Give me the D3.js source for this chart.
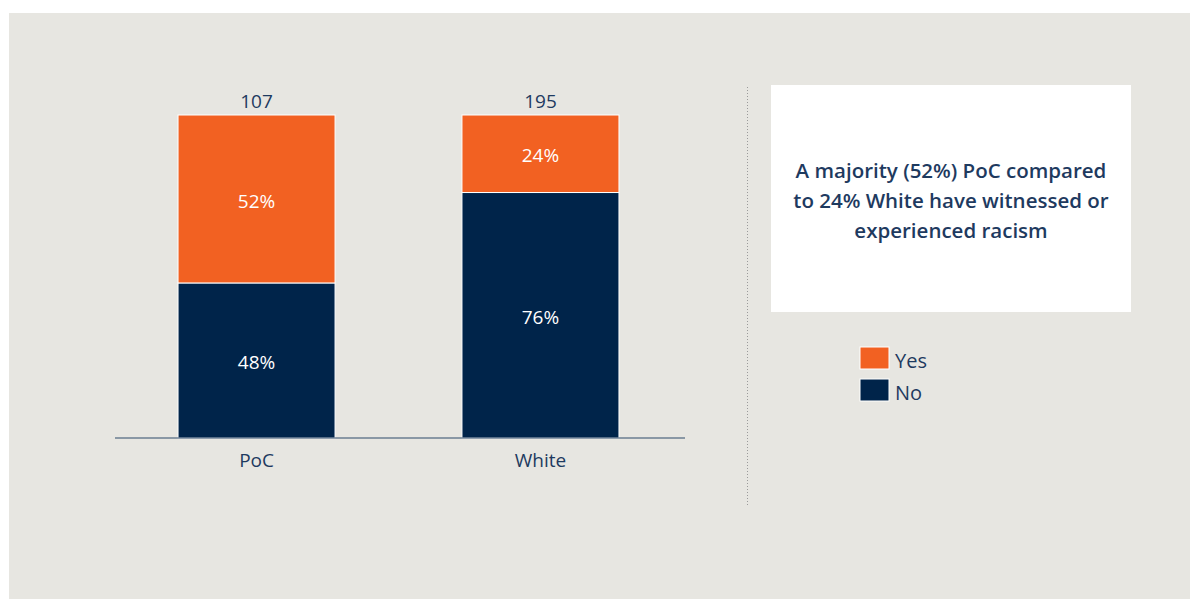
<!DOCTYPE html>
<html>
<head>
<meta charset="utf-8">
<script src="https://cdn.jsdelivr.net/npm/d3@7"></script>
<style>
  body { margin: 0; background: #fff; }
  svg { display: block; font-family: "Open Sans", "Noto Sans", sans-serif; }
</style>
</head>
<body>
<div id="chart"></div>
<script>
// chart data
let categories = ["PoC", "White"];
let totals = [107, 195];
let noValues = [48, 76];
let yesValues = [52, 24];
let seriesNames = ["Yes", "No"];
let noteLines = ["A majority (52%) PoC compared", "to 24% White have witnessed or", "experienced racism"];

let svgWidth = 1190;
let svgHeight = 599;

let orange = "#F26122";
let navy = "#00244A";
let textColor = "#1E3A5F";

let svg = d3.select("#chart")
  .append("svg")
  .attr("width", svgWidth)
  .attr("height", svgHeight);

// grey panel
svg.append("rect")
  .attr("x", 9)
  .attr("y", 13)
  .attr("width", svgWidth - 9)
  .attr("height", svgHeight - 13)
  .attr("fill", "#E7E6E1");

// scales
let xScale = d3.scaleBand()
  .domain(categories)
  .range([115, 682])
  .paddingInner(0.447)
  .paddingOuter(0.222);

let yScale = d3.scaleLinear()
  .domain([0, 100])
  .range([438, 115]);

let rows = categories.map((c, i) => ({
  cat: c, total: totals[i], no: noValues[i], yes: yesValues[i]
}));

// stacked bars: No at bottom, Yes on top
let barGroup = svg.append("g");

barGroup.selectAll("rect.no")
  .data(rows)
  .enter()
  .append("rect")
  .attr("class", "no")
  .attr("x", d => xScale(d.cat))
  .attr("y", d => yScale(d.no))
  .attr("width", xScale.bandwidth())
  .attr("height", d => yScale(0) - yScale(d.no))
  .attr("fill", navy)
  .attr("stroke", "#fff")
  .attr("stroke-width", 1);

barGroup.selectAll("rect.yes")
  .data(rows)
  .enter()
  .append("rect")
  .attr("class", "yes")
  .attr("x", d => xScale(d.cat))
  .attr("y", d => yScale(d.no + d.yes))
  .attr("width", xScale.bandwidth())
  .attr("height", d => yScale(d.no) - yScale(d.no + d.yes))
  .attr("fill", orange)
  .attr("stroke", "#fff")
  .attr("stroke-width", 1);

// x axis line + labels
let xAxis = d3.axisBottom(xScale).tickSize(0).tickPadding(16);
let axisG = svg.append("g")
  .attr("transform", `translate(0, ${yScale(0)})`)
  .call(xAxis);
axisG.select(".domain").remove();
axisG.append("line")
  .attr("x1", 115).attr("x2", 685)
  .attr("stroke", "#2E4A6B").attr("stroke-width", 1.2);
axisG.selectAll("text")
  .attr("font-size", "19px")
  .attr("font-family", "'Open Sans', 'Noto Sans', sans-serif")
  .attr("fill", textColor);

// percent labels inside segments
let labelGroup = svg.append("g")
  .attr("font-size", "19px")
  .attr("fill", "#fff")
  .attr("text-anchor", "middle");

labelGroup.selectAll("text.nolab")
  .data(rows)
  .enter()
  .append("text")
  .attr("x", d => xScale(d.cat) + xScale.bandwidth() / 2)
  .attr("y", d => yScale(d.no / 2))
  .attr("dy", "0.45em")
  .text(d => d.no + "%");

labelGroup.selectAll("text.yeslab")
  .data(rows)
  .enter()
  .append("text")
  .attr("x", d => xScale(d.cat) + xScale.bandwidth() / 2)
  .attr("y", d => yScale(d.no + d.yes / 2))
  .attr("dy", "0.45em")
  .text(d => d.yes + "%");

// totals above bars
svg.append("g").selectAll("text")
  .data(rows)
  .enter()
  .append("text")
  .attr("x", d => xScale(d.cat) + xScale.bandwidth() / 2)
  .attr("y", yScale(100) - 7)
  .attr("text-anchor", "middle")
  .attr("font-size", "19px")
  .attr("fill", textColor)
  .text(d => d.total);

// dotted divider
svg.append("line")
  .attr("x1", 747.5).attr("x2", 747.5)
  .attr("y1", 87).attr("y2", 505)
  .attr("stroke", "#9A9A9A")
  .attr("stroke-width", 1)
  .attr("stroke-dasharray", "1,2");

// note box
svg.append("rect")
  .attr("x", 771)
  .attr("y", 85)
  .attr("width", 360)
  .attr("height", 227)
  .attr("fill", "#fff");

svg.append("g").selectAll("text")
  .data(noteLines)
  .enter()
  .append("text")
  .attr("x", 951)
  .attr("y", (d, i) => 178 + i * 30)
  .attr("text-anchor", "middle")
  .attr("font-size", "20.5px")
  .attr("font-weight", 600)
  .attr("fill", textColor)
  .text(d => d);

// legend
let legend = svg.append("g").attr("transform", "translate(860, 347)");
let legendItems = legend.selectAll("g")
  .data(seriesNames)
  .enter()
  .append("g")
  .attr("transform", (d, i) => `translate(0, ${i * 32})`);

legendItems.append("rect")
  .attr("width", 29)
  .attr("height", 22)
  .attr("fill", d => d === "Yes" ? orange : navy)
  .attr("stroke", "#fff")
  .attr("stroke-width", 1);

legendItems.append("text")
  .attr("x", 35)
  .attr("y", 11)
  .attr("dy", "0.5em")
  .attr("font-size", "20px")
  .attr("fill", textColor)
  .text(d => d);
</script>
</body>
</html>
